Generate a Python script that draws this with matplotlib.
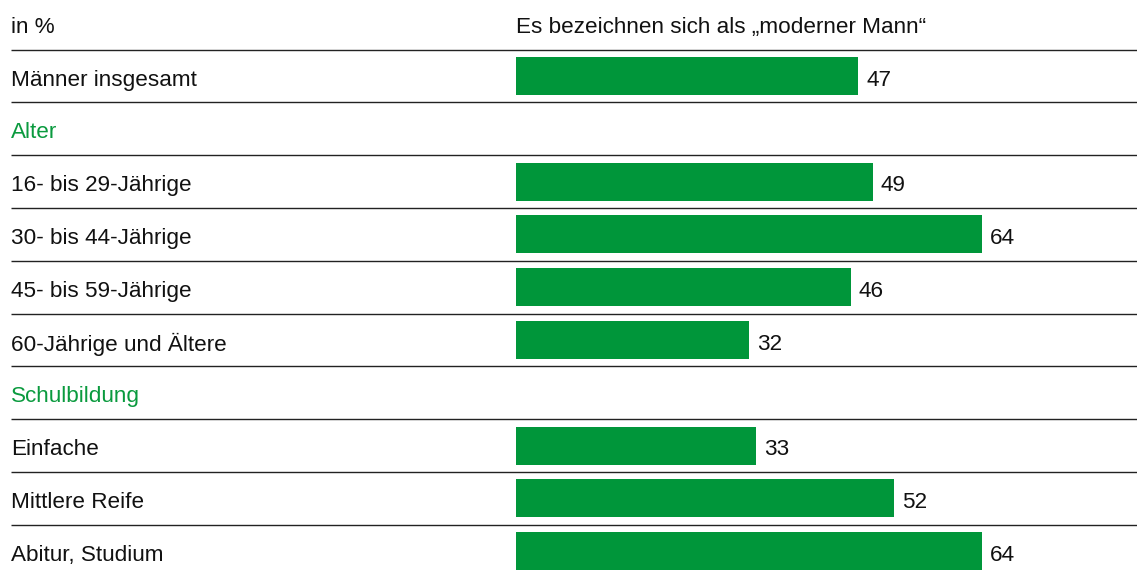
import matplotlib.pyplot as plt
import matplotlib.transforms as mtransforms

# rows from top to bottom; None marks a group heading
labels = ["Männer insgesamt", "Alter", "16- bis 29-Jährige", "30- bis 44-Jährige",
          "45- bis 59-Jährige", "60-Jährige und Ältere", "Schulbildung",
          "Einfache", "Mittlere Reife", "Abitur, Studium"]
values = [47, None, 49, 64, 46, 32, None, 33, 52, 64]
unit_label = "in %"
column_title = "Es bezeichnen sich als \u201emoderner Mann\u201c"

green = "#00963a"
text_green = "#0a9a3e"
plt.rcParams["font.family"] = ["Liberation Sans", "DejaVu Sans"]
fs = 16.2

W, H = 1137, 573
fig = plt.figure(figsize=(W / 100, H / 100), dpi=100)
ax = fig.add_axes([0, 0, 1, 1])

# pixel layout -> data scales
px_per_unit = 7.277
bar_x0 = 516
row_px = 52.8
first_row = 77
ax.set_xlim(-bar_x0 / px_per_unit, (W - bar_x0) / px_per_unit)
ax.set_ylim((H - first_row) / row_px, -first_row / row_px)
ax.axis("off")

lbl = mtransforms.blended_transform_factory(ax.transAxes, ax.transData)
x_text = 11 / W
dy = 0.06  # nudge text down a little

# header
ax.text(x_text, -1.0 + dy, unit_label, transform=lbl, fontsize=fs, va="center", color="#111111")
ax.text(0, -1.0 + dy, column_title, fontsize=fs, va="center", color="#111111")

for i, (lab, v) in enumerate(zip(labels, values)):
    ax.plot([x_text, 1], [i - 0.52, i - 0.52], transform=lbl, color="#222222", lw=1.0,
            solid_capstyle="butt")
    if v is None:
        ax.text(x_text, i + dy, lab, transform=lbl, fontsize=fs, va="center", color=text_green)
        continue
    ax.text(x_text, i + dy, lab, transform=lbl, fontsize=fs, va="center", color="#111111")
    ax.barh(i - 0.02, v, height=0.72, color=green, left=0)
    ax.text(v + 8 / px_per_unit, i + dy, str(v), fontsize=fs, va="center", ha="left",
            color="#111111")

fig.savefig("out.png", dpi=100)
